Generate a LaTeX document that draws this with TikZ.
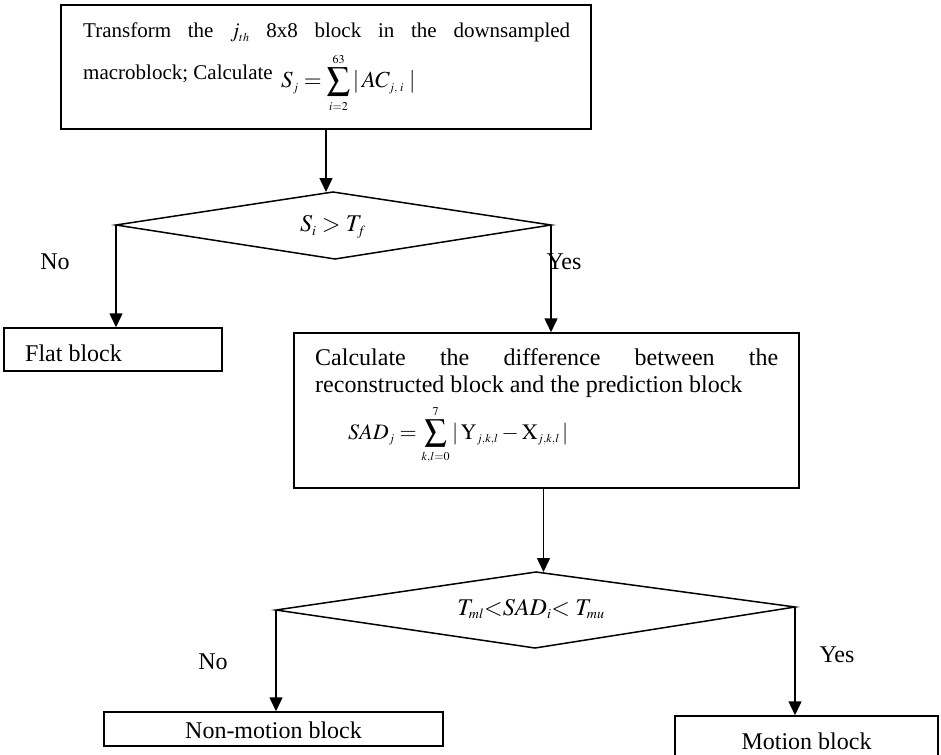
\documentclass[tikz,border=0pt]{standalone}
\usepackage{mathptmx}
\usepackage[no-math]{fontspec}
\setmainfont{Liberation Serif}
\usetikzlibrary{arrows.meta}
\DeclareMathSizes{25}{25}{13}{10}
\DeclareMathSizes{22}{22}{12}{9}
\DeclareMathSizes{24}{24}{14}{10}
\DeclareMathSizes{21}{21}{12}{9}
\DeclareMathSizes{23}{23}{12}{9}
\begin{document}
\begin{tikzpicture}[x=1pt,y=-1pt,
  box/.style={draw, line width=1.5pt, rectangle, inner sep=0pt},
  flow/.style={draw, line width=1.5pt, -{Triangle[width=13pt,length=14pt]}},
  dia/.style={draw, line width=1.5pt, line join=miter},
  txt/.style={inner sep=0pt, font=\fontsize{24}{28}\selectfont},
  stxt/.style={inner sep=0pt, font=\fontsize{21}{25}\selectfont},
]
\useasboundingbox (0,0) rectangle (941,754);
\clip (0,0) rectangle (941,754);

% boxes
\node[box, minimum width=530pt, minimum height=124pt] (top) at (326,67) {};
\node[box, minimum width=218pt, minimum height=43pt] (flat) at (113,349.5) {};
\node[box, minimum width=505pt, minimum height=155pt] (mid) at (546.5,410.5) {};
\node[box, minimum width=339pt, minimum height=34pt] (nm) at (273.5,729) {};
\node[box, minimum width=263pt, minimum height=48pt] (mo) at (806.5,740) {};

% diamonds
\coordinate (d1l) at (116,225);
\coordinate (d1t) at (333,192);
\coordinate (d1r) at (551,225);
\coordinate (d1b) at (335,259);
\draw[dia] (d1l) -- (d1t) -- (d1r) -- (d1b) -- cycle;
\coordinate (d2l) at (276,610);
\coordinate (d2t) at (536,572);
\coordinate (d2r) at (795,607);
\coordinate (d2b) at (535,648);
\draw[dia] (d2l) -- (d2t) -- (d2r) -- (d2b) -- cycle;

% connectors
\draw[flow] (top.south) -- (top.south |- d1t);
\draw[flow] (d1l) -- (d1l |- flat.north);
\draw[flow] (d1r) -- (d1r |- mid.north);
\draw[flow] (mid.south) ++(-3,0) coordinate (ms) -- (ms |- d2t);
\draw[flow] (d2l) -- (d2l |- nm.north);
\draw[flow] (d2r) -- (d2r |- mo.north);

% texts
\node[stxt, anchor=base west] (t1) at (83,38) {\makebox[487pt][s]{Transform the \smash{$j_{th}$} 8x8 block in the downsampled}};
\node[stxt, anchor=base west] (t2) at (83,80) {macroblock; Calculate};
\node[inner sep=0pt, anchor=base west, font=\fontsize{23}{27}\selectfont] (f1) at (281,88)
  {$\displaystyle S_j = \sum_{i=2}^{63}|\,AC_{j,\;i}\;|$};

\node[txt, anchor=base west] (m1) at (315,365) {\makebox[463pt][s]{Calculate the difference between the}};
\node[txt, anchor=base west] (m2) at (315,392) {reconstructed block and the prediction block};
\node[inner sep=0pt, anchor=base west, font=\fontsize{22}{26}\selectfont] (f2) at (348,439)
  {$\displaystyle SAD_j = \sum_{k,l=0}^{7}|\,\mathrm{Y}_{j,k,l} - \mathrm{X}_{j,k,l}\,|$};

\node[txt] (c1) at (333,227) {$S_i > T_f$};
\node[txt] (c2) at (531,609) {$T_{ml}{<}SAD_i{<}\;T_{mu}$};

\node[txt] (no1) at (55,262) {No};
\node[txt] (yes1) at (564,262) {Yes};
\node[txt] (no2) at (213,662) {No};
\node[txt] (yes2) at (837,655) {Yes};

\node[txt, anchor=base west] (tf) at (25,361) {Flat block};
\node[txt, anchor=base] (tnm) at (273.5,738) {Non-motion block};
\node[txt, anchor=base] (tmo) at (806.5,749) {Motion block};
\end{tikzpicture}
\end{document}
